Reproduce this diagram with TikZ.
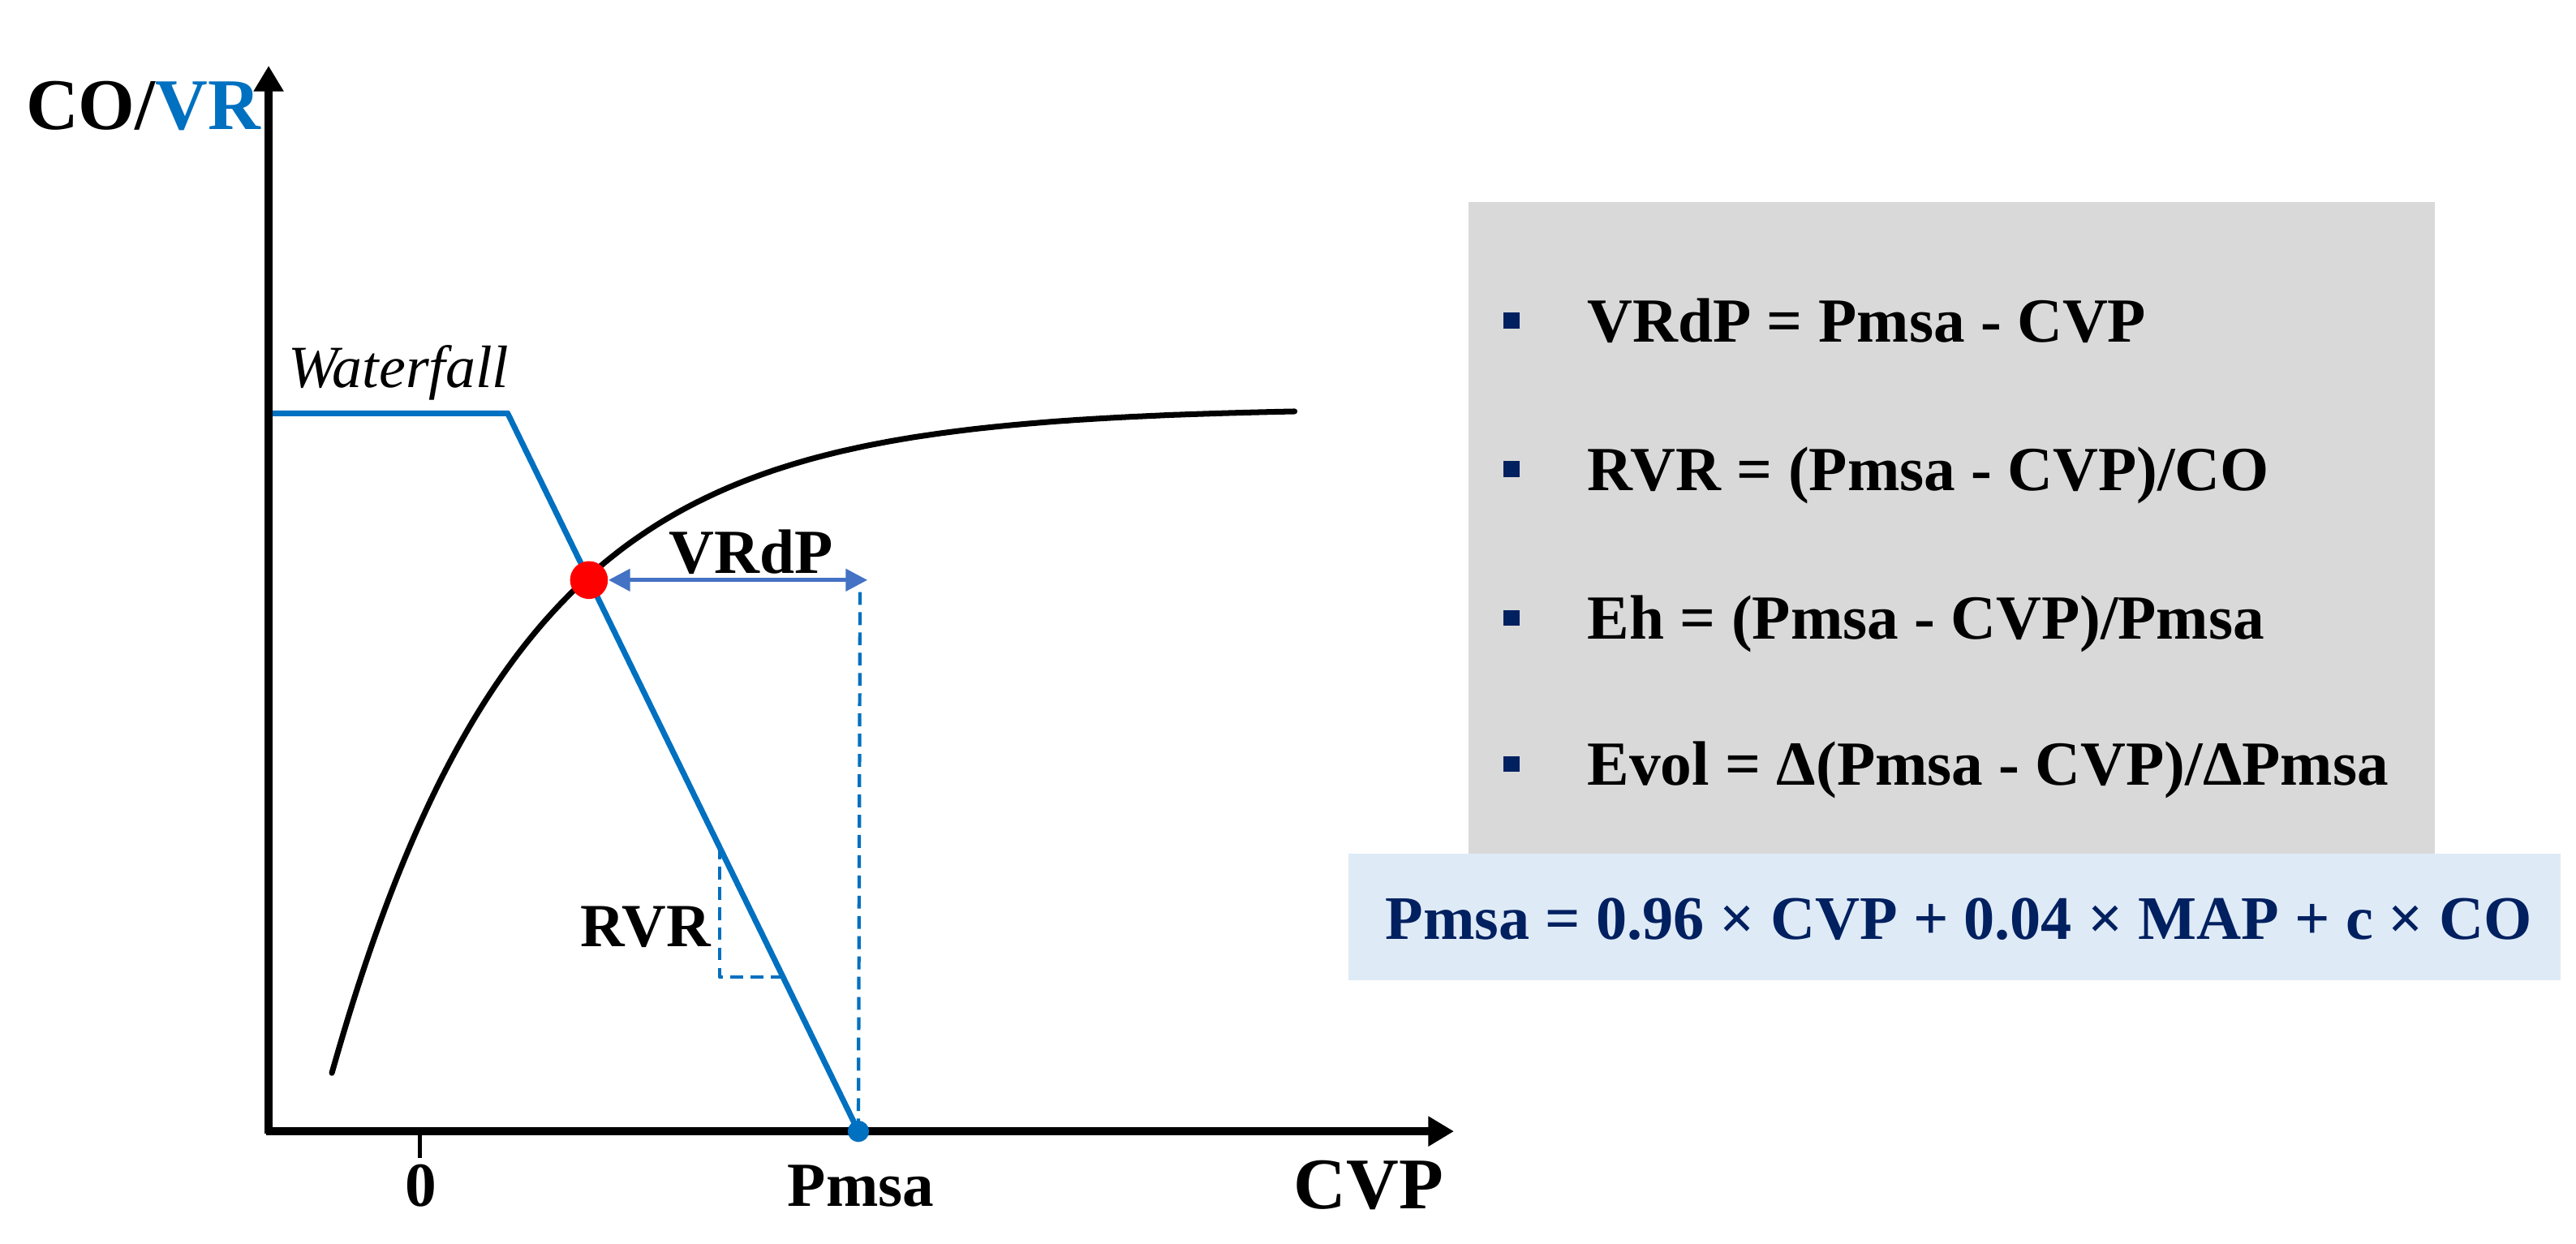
\documentclass[tikz,border=0pt]{standalone}
\usepackage{fontspec}
\setmainfont{Liberation Serif}
\usetikzlibrary{calc,arrows.meta,positioning}
\definecolor{vrblue}{HTML}{0070C0}
\definecolor{arrblue}{HTML}{4472C4}
\definecolor{navy}{HTML}{002060}
\definecolor{boxgray}{HTML}{D9D9D9}
\definecolor{boxblue}{HTML}{DEEAF6}
\tikzset{
  axis/.style={line width=2.8pt,line cap=butt,-{Triangle[length=9pt,width=10pt]}},
  vrline/.style={vrblue,line width=2pt},
  dashline/.style={vrblue,line width=1.2pt,dash pattern=on 4.5pt off 2.6pt,line cap=butt},
  lbl/.style={font=\fontsize{22}{26}\selectfont\bfseries,inner sep=0pt},
  biglbl/.style={font=\fontsize{25.5}{30}\selectfont\bfseries,inner sep=0pt},
  eqn/.style={font=\fontsize{22}{26}\selectfont\bfseries,anchor=base west,inner sep=0pt},
  bul/.style={fill=navy,minimum size=5.6pt,inner sep=0pt},
}
\begin{document}
\begin{tikzpicture}[line cap=round,line join=round,x=0.02025cm,y=-0.02025cm]
\useasboundingbox (0,0) rectangle (1568,757);
% boxes on the right
\fill[boxgray] (894,123) rectangle (1482,520);
\fill[boxblue] (821,519.5) rectangle (1558.5,596.5);
\foreach \yy/\t in {208/{VRdP = Pmsa - CVP},298.5/{RVR = (Pmsa - CVP)/CO},389/{Eh = (Pmsa - CVP)/Pmsa},478/{Evol = Δ(Pmsa - CVP)/ΔPmsa}}
{
    \node[bul] (b\yy) at (920,\yy-13) {};
    \node[eqn] (e\yy) at (966,\yy) {\t};
};
\node[eqn,font=\fontsize{21.7}{26}\selectfont\bfseries,text=navy] (pmsaeq) at (843,571.5) {Pmsa = 0.96 × CVP + 0.04 × MAP + c × CO};
% axes
\coordinate (O) at (163.5,688.5);
\coordinate (ytop) at (163.5,40);
\coordinate (xend) at (885,688.5);
\node[biglbl,anchor=base west] (ylab) at (15.5,79) {CO/\textcolor{vrblue}{VR}};
\node[biglbl,anchor=base] (xlab) at (833,735.8) {CVP};
%畫上 curves
\draw[line width=2pt,smooth,samples=120,domain=202:788] plot(\x,{248+405*exp(-(\x-202)/114)});
\draw[vrline] (O |- 0,251.5) coordinate (wf0) -- (309,251.5) coordinate (wf1) -- (522.5,688.5) coordinate (pm);
\node[font=\fontsize{21}{24}\selectfont\itshape,anchor=base west,inner sep=0pt] (wf) at (175,236) {Waterfall};
% RVR triangle and dashed drop
\draw[dashline] (438,515) coordinate (r1) -- (438,594.6) coordinate (r2) -- (476.8,594.6) coordinate (r3);
\node[lbl,anchor=base east,font=\fontsize{21.5}{26}\selectfont\bfseries] (rvr) at (433,576) {RVR};
\draw[axis] ($(O)+(0,1.4)$) -- (ytop);
\draw[axis] ($(O)+(-1.4,0)$) -- (xend);
\draw[line width=1.4pt,line cap=butt] (255.5,690) -- (255.5,704.6) coordinate (tick);
\node[lbl,anchor=base] (zero) at (256,734) {0};
\node[lbl,anchor=base] (pmsalab) at (524,734) {Pmsa};
\coordinate (vtop) at (523.5,359.6);
\draw[dashline] (pm) -- (vtop);
\node[circle,fill=vrblue,minimum size=7.5pt,inner sep=0pt] (pmdot) at (pm) {};
\node[circle,fill=red,minimum size=0.466cm,inner sep=0pt] (eq) at (358.5,353) {};
\coordinate (vend) at (528,353);
\draw[arrblue,line width=1.5pt,line cap=butt,{Triangle[length=7.6pt,width=7.6pt]}-{Triangle[length=7.6pt,width=7.6pt]}] (eq.east) -- (vend);
\node[lbl,anchor=base west] (vrdp) at (407,349) {VRdP};
\end{tikzpicture}
\end{document}
